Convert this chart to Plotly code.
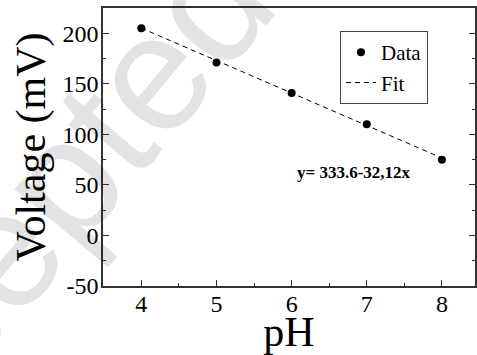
import plotly.graph_objects as go

# Data
ph = [4, 5, 6, 7, 8]
voltage = [205, 171, 141, 110, 75]
fit_intercept = 333.6
fit_slope = -32.12
fit_x = [4, 8]
fit_y = [fit_intercept + fit_slope * x for x in fit_x]
x_ticks = [4, 5, 6, 7, 8]
y_ticks = [-50, 0, 50, 100, 150, 200]

SERIF = "Liberation Serif"
AX = "#333333"

fig = go.Figure()
fig.add_trace(go.Scatter(
    x=ph, y=voltage, mode="markers", name="Data",
    marker=dict(color="black", size=8),
))
fig.add_trace(go.Scatter(
    x=fit_x, y=fit_y, mode="lines", name="Fit",
    line=dict(color="black", width=1, dash="5px,4px"),
))

fig.update_layout(
    width=477, height=355,
    margin=dict(l=103, r=0, t=8, b=69),
    paper_bgcolor="white", plot_bgcolor="white",
    font=dict(family=SERIF, color="black"),
    showlegend=True,
    legend=dict(
        x=0.637, y=0.917, xanchor="left", yanchor="top",
        bordercolor="#444444", borderwidth=1, bgcolor="rgba(255,255,255,0)",
        font=dict(family=SERIF, size=21, color="black"),
        tracegroupgap=0, itemwidth=30,
    ),
    xaxis=dict(
        range=[3.49, 8.44], tickvals=x_ticks, ticktext=[str(v) for v in x_ticks],
        ticks="inside", ticklen=6, tickwidth=1, tickcolor=AX,
        minor=dict(ticks="inside", ticklen=3, dtick=0.5, tick0=4, tickcolor=AX),
        showline=True, linecolor=AX, linewidth=1.5, mirror=True,
        showgrid=False, zeroline=False,
        tickfont=dict(family=SERIF, size=24), ticklabelstandoff=-5,
        title=dict(text="pH", font=dict(family=SERIF, size=42), standoff=0),
    ),
    yaxis=dict(
        range=[-50, 225], tickvals=y_ticks, ticktext=[str(v) for v in y_ticks],
        ticks="inside", ticklen=6, tickwidth=1, tickcolor=AX,
        minor=dict(ticks="inside", ticklen=3, dtick=25, tick0=0, tickcolor=AX),
        showline=True, linecolor=AX, linewidth=1.5, mirror="ticks",
        showgrid=False, zeroline=False,
        tickfont=dict(family=SERIF, size=24), ticklabelstandoff=-2,
        title=dict(text="Voltage (mV)", font=dict(family=SERIF, size=42), standoff=4),
    ),
    annotations=[
        dict(
            text="<b>y= 333.6-32,12x</b>", x=6.83, y=62.5, xref="x", yref="y",
            showarrow=False, font=dict(family=SERIF, size=17, color="black"),
        ),
        dict(
            text="Accepted", xref="paper", yref="paper",
            x=(15 - 103) / 374, y=(286 - 234) / 278, xanchor="center", yanchor="middle",
            showarrow=False, textangle=-50,
            font=dict(family="Liberation Sans", size=166,
                      color="rgba(0,0,0,0.11)"),
        ),
    ],
)

fig.write_html("out.html")
